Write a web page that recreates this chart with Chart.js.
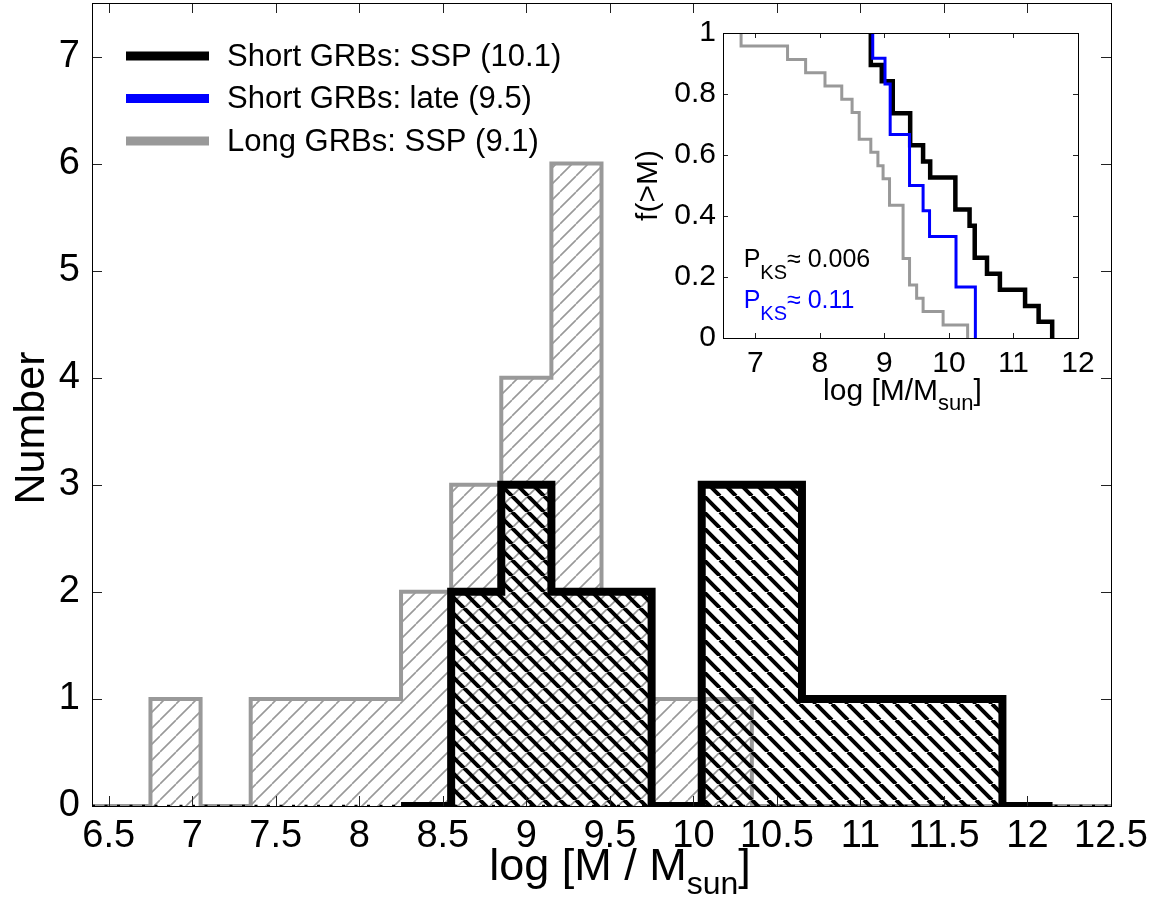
<!DOCTYPE html>
<html>
<head>
<meta charset="utf-8">
<script src="https://cdn.jsdelivr.net/npm/chart.js@4.4.1/dist/chart.umd.min.js"></script>
<style>
  html, body { margin: 0; padding: 0; background: #fff; }
  #wrap { position: relative; width: 1164px; height: 920px; }
  #mainChart { position: absolute; left: 0; top: 0; }
  #insetChart { position: absolute; left: 600px; top: 0; }
</style>
</head>
<body>
<div id="wrap">
  <canvas id="mainChart" width="1164" height="920"></canvas>
  <canvas id="insetChart" width="520" height="440"></canvas>
</div>
<script>
// histogram of host stellar masses, bins 0.3 dex wide
const binWidth = 0.3;
const longCenters = [6.9, 7.2, 7.5, 7.8, 8.1, 8.4, 8.7, 9.0, 9.3, 9.6, 9.9, 10.2];
const longCounts = [1, 0, 1, 1, 1, 2, 3, 4, 6, 2, 1, 1];
const shortCenters = [8.4, 8.7, 9.0, 9.3, 9.6, 9.9, 10.2, 10.5, 10.8, 11.1, 11.4, 11.7, 12.0];
const shortCounts = [0, 2, 3, 2, 2, 0, 3, 3, 1, 1, 1, 1, 0];
const xTicks = [6.5, 7, 7.5, 8, 8.5, 9, 9.5, 10, 10.5, 11, 11.5, 12, 12.5];
const yTicks = [0, 1, 2, 3, 4, 5, 6, 7];

const legendLabels = ['Short GRBs: SSP (10.1)', 'Short GRBs: late (9.5)', 'Long GRBs: SSP (9.1)'];

// inset: cumulative f(>M), steps at x with value after the step
const cdfShortSspX = [8.79, 8.96, 9.13, 9.40, 9.60, 9.71, 10.10, 10.32, 10.40, 10.59, 10.79, 11.18, 11.39, 11.60];
const cdfShortSspY = [0.895, 0.842, 0.737, 0.632, 0.579, 0.526, 0.421, 0.368, 0.263, 0.211, 0.158, 0.105, 0.053, 0];
const cdfShortLateX = [8.82, 9.01, 9.09, 9.39, 9.60, 9.70, 10.11, 10.41];
const cdfShortLateY = [0.917, 0.833, 0.667, 0.5, 0.417, 0.333, 0.167, 0];
const cdfLongX = [6.78, 7.50, 7.78, 8.08, 8.34, 8.50, 8.61, 8.79, 8.90, 8.98, 9.08, 9.29, 9.39, 9.50, 9.60, 9.91, 10.29];
const cdfLongY = [0.957, 0.913, 0.870, 0.826, 0.783, 0.739, 0.652, 0.609, 0.565, 0.522, 0.435, 0.261, 0.174, 0.130, 0.087, 0.043, 0];
const insetXTicks = [7, 8, 9, 10, 11, 12];
const insetYTicks = [0, 0.2, 0.4, 0.6, 0.8, 1];
const ksLabels = ['0.006', '0.11'];

const FONT = '"Liberation Sans", Arial, Helvetica, sans-serif';
const GRAY = '#999999';
const BLUE = '#0000ff';

// outline of a histogram as stepped points
function histPoints(centers, counts) {
  const pts = [{ x: centers[0] - binWidth / 2, y: 0 }];
  centers.forEach((c, i) => pts.push({ x: c - binWidth / 2, y: counts[i] }));
  pts.push({ x: centers[centers.length - 1] + binWidth / 2, y: 0 });
  return pts;
}

function cdfPoints(xs, ys) {
  const pts = [{ x: xs[0], y: 1 }];
  xs.forEach((x, i) => pts.push({ x, y: ys[i] }));
  return pts;
}

function hatch(dir, color, width, bg) {
  const s = 16;
  const c = document.createElement('canvas');
  c.width = s; c.height = s;
  const g = c.getContext('2d');
  if (bg) { g.fillStyle = bg; g.fillRect(0, 0, s, s); }
  g.strokeStyle = color;
  g.lineWidth = width;
  g.beginPath();
  for (let k = -1; k <= 1; k++) {
    if (dir === '/') { g.moveTo(k * s, s); g.lineTo(k * s + s, 0); }
    else { g.moveTo(k * s, 0); g.lineTo(k * s + s, s); }
  }
  g.stroke();
  return g.createPattern(c, 'repeat');
}

// text with subscript parts: [text, size, dy]
function drawParts(ctx, x, y, parts, color, align) {
  ctx.save();
  ctx.fillStyle = color;
  ctx.textBaseline = 'alphabetic';
  ctx.textAlign = 'left';
  let total = 0;
  parts.forEach(p => { ctx.font = p[1] + 'px ' + FONT; total += ctx.measureText(p[0]).width; });
  let cx = align === 'center' ? x - total / 2 : x;
  parts.forEach(p => {
    ctx.font = p[1] + 'px ' + FONT;
    ctx.fillText(p[0], cx, y + (p[2] || 0));
    cx += ctx.measureText(p[0]).width;
  });
  ctx.restore();
}

function framePlugin(id, tickLen) {
  return {
    id,
    afterDatasetsDraw(chart) {
      const { ctx, chartArea: a, scales: { x, y } } = chart;
      ctx.save();
      ctx.strokeStyle = '#222';
      ctx.lineWidth = 1;
      ctx.beginPath();
      x.ticks.forEach(t => {
        const px = Math.round(x.getPixelForValue(t.value)) + 0.5;
        ctx.moveTo(px, a.bottom); ctx.lineTo(px, a.bottom - tickLen);
        ctx.moveTo(px, a.top); ctx.lineTo(px, a.top + tickLen);
      });
      y.ticks.forEach(t => {
        const py = Math.round(y.getPixelForValue(t.value)) + 0.5;
        ctx.moveTo(a.left, py); ctx.lineTo(a.left + tickLen, py);
        ctx.moveTo(a.right, py); ctx.lineTo(a.right - tickLen, py);
      });
      ctx.stroke();
      ctx.strokeStyle = '#000';
      ctx.strokeRect(Math.round(a.left) + 0.5, Math.round(a.top) + 0.5,
        Math.round(a.right - a.left), Math.round(a.bottom - a.top));
      ctx.restore();
    }
  };
}

function noPad(s) {
  s.paddingTop = 0; s.paddingBottom = 0; s.paddingLeft = 0; s.paddingRight = 0;
}

const mainDecor = {
  id: 'mainDecor',
  afterDraw(chart) {
    const { ctx } = chart;
    // legend
    const colors = ['#000', BLUE, GRAY];
    legendLabels.forEach((lab, i) => {
      const yy = 56 + i * 42.5;
      ctx.save();
      ctx.strokeStyle = colors[i];
      ctx.lineWidth = 9;
      ctx.beginPath();
      ctx.moveTo(126, yy); ctx.lineTo(209, yy);
      ctx.stroke();
      ctx.fillStyle = '#000';
      ctx.font = '31px ' + FONT;
      ctx.textBaseline = 'middle';
      ctx.fillText(lab, 227, yy + 1);
      ctx.restore();
    });
    // axis titles
    drawParts(ctx, 620, 880,
      [['log [M / M', 45], ['sun', 32, 14], [']', 45]], '#000', 'center');
    ctx.save();
    ctx.translate(44, 428);
    ctx.rotate(-Math.PI / 2);
    ctx.font = '43px ' + FONT;
    ctx.fillStyle = '#000';
    ctx.textAlign = 'center';
    ctx.textBaseline = 'alphabetic';
    ctx.fillText('Number', 0, 0);
    ctx.restore();
  }
};

new Chart(document.getElementById('mainChart'), {
  type: 'line',
  data: {
    datasets: [
      { data: [{ x: 6.4, y: 0 }, { x: 12.5, y: 0 }], borderColor: GRAY, borderWidth: 4,
        pointRadius: 0, order: 4, clip: 0 },
      { data: histPoints(longCenters, longCounts), stepped: 'before', borderColor: GRAY, borderWidth: 4,
        backgroundColor: hatch('/', GRAY, 1.6, '#fff'), fill: 'origin', pointRadius: 0, order: 3, clip: 0,
        borderJoinStyle: 'miter' },
      { data: histPoints(shortCenters, shortCounts), stepped: 'before', borderColor: '#000', borderWidth: 8,
        backgroundColor: hatch('\\', '#000', 4, null), fill: 'origin', pointRadius: 0, order: 2, clip: 0,
        borderJoinStyle: 'miter' },
      { data: [{ x: 6.4, y: 0 }, { x: 12.5, y: 0 }], borderColor: '#000', borderWidth: 2.5,
        borderDash: [3, 9.5], pointRadius: 0, order: 1, clip: 0 }
    ]
  },
  options: {
    responsive: false,
    animation: false,
    events: [],
    layout: { padding: { left: 0, top: 3, right: 53, bottom: 0 } },
    plugins: { legend: { display: false }, tooltip: { enabled: false } },
    scales: {
      x: {
        type: 'linear', min: 6.4, max: 12.5,
        afterBuildTicks: s => { s.ticks = xTicks.map(v => ({ value: v })); },
        afterFit: s => { s.height = 114; noPad(s); },
        grid: { display: false, drawTicks: false },
        border: { display: false },
        ticks: { font: { family: FONT, size: 38 }, color: '#000', padding: 8, maxRotation: 0, autoSkip: false,
          callback: v => String(v) }
      },
      y: {
        type: 'linear', min: 0, max: 7.5,
        afterBuildTicks: s => { s.ticks = yTicks.map(v => ({ value: v })); },
        afterFit: s => { s.width = 92; noPad(s); },
        grid: { display: false, drawTicks: false },
        border: { display: false },
        ticks: { font: { family: FONT, size: 38 }, color: '#000', padding: 12, autoSkip: false,
          callback: v => String(v) }
      }
    }
  },
  plugins: [framePlugin('mainFrame', 10), mainDecor]
});

const insetDecor = {
  id: 'insetDecor',
  beforeDatasetsDraw(chart) {
    const { ctx, chartArea: a } = chart;
    ctx.save();
    ctx.fillStyle = '#fff';
    ctx.fillRect(a.left, a.top, a.right - a.left, a.bottom - a.top);
    ctx.restore();
  },
  afterDraw(chart) {
    const { ctx, chartArea: a, scales: { x, y } } = chart;
    const px = x.getPixelForValue(6.82);
    drawParts(ctx, px, y.getPixelForValue(0.232),
      [['P', 25], ['KS', 20, 12], ['\u2248 ' + ksLabels[0], 25]], '#000');
    drawParts(ctx, px, y.getPixelForValue(0.10),
      [['P', 25], ['KS', 20, 12], ['\u2248 ' + ksLabels[1], 25]], BLUE);
    drawParts(ctx, (a.left + a.right) / 2 + 2, 400,
      [['log [M/M', 30], ['sun', 22, 10], [']', 30]], '#000', 'center');
    ctx.save();
    ctx.translate(a.left - 66, (a.top + a.bottom) / 2);
    ctx.rotate(-Math.PI / 2);
    ctx.font = '30px ' + FONT;
    ctx.fillStyle = '#000';
    ctx.textAlign = 'center';
    ctx.fillText('f(>M)', 0, 0);
    ctx.restore();
  }
};

new Chart(document.getElementById('insetChart'), {
  type: 'line',
  data: {
    datasets: [
      { data: cdfPoints(cdfLongX, cdfLongY), stepped: 'before', borderColor: GRAY, borderWidth: 3,
        pointRadius: 0, fill: false, order: 3 },
      { data: cdfPoints(cdfShortSspX, cdfShortSspY), stepped: 'before', borderColor: '#000', borderWidth: 4.5,
        pointRadius: 0, fill: false, order: 2 },
      { data: cdfPoints(cdfShortLateX, cdfShortLateY), stepped: 'before', borderColor: BLUE, borderWidth: 3,
        pointRadius: 0, fill: false, order: 1 }
    ]
  },
  options: {
    responsive: false,
    animation: false,
    events: [],
    layout: { padding: { left: 0, top: 33, right: 42, bottom: 0 } },
    plugins: { legend: { display: false }, tooltip: { enabled: false } },
    scales: {
      x: {
        type: 'linear', min: 6.5, max: 12,
        afterBuildTicks: s => { s.ticks = insetXTicks.map(v => ({ value: v })); },
        afterFit: s => { s.height = 102; noPad(s); },
        grid: { display: false, drawTicks: false },
        border: { display: false },
        ticks: { font: { family: FONT, size: 30 }, color: '#000', padding: 8, maxRotation: 0, autoSkip: false,
          callback: v => String(v) }
      },
      y: {
        type: 'linear', min: 0, max: 1,
        afterBuildTicks: s => { s.ticks = insetYTicks.map(v => ({ value: v })); },
        afterFit: s => { s.width = 123; noPad(s); },
        grid: { display: false, drawTicks: false },
        border: { display: false },
        ticks: { font: { family: FONT, size: 30 }, color: '#000', padding: 7, autoSkip: false,
          callback: v => String(+v.toFixed(1)) }
      }
    }
  },
  plugins: [framePlugin('insetFrame', 5), insetDecor]
});
</script>
</body>
</html>
